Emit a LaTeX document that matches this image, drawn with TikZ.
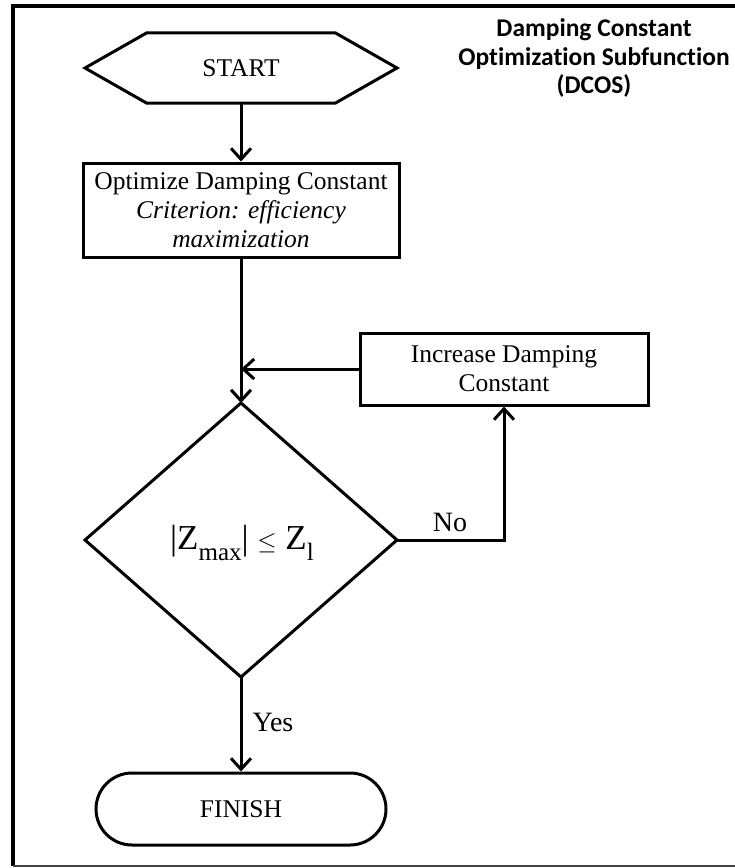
\documentclass[tikz,border=0pt]{standalone}
\usepackage{fontspec}
\setmainfont{Liberation Serif}
\newfontfamily\titlefont[Ligatures={NoCommon}]{Carlito}
\usetikzlibrary{arrows.meta}
\begin{document}
\begin{tikzpicture}[x=1pt,y=-1pt,
  outline/.style={line width=3pt, line join=miter},
  box/.style={draw, line width=3pt, rectangle, align=center, inner sep=0pt,
    font=\fontsize{25.5}{29}\selectfont},
  plain/.style={align=center, inner sep=0pt, font=\fontsize{25.5}{29}\selectfont},
  conn/.style={line width=3pt, -{Straight Barb[length=11pt,width=20pt,line width=3pt]}},
  lbl/.style={inner sep=0pt, font=\fontsize{28}{30}\selectfont},
]
\useasboundingbox (0,0) rectangle (735,868);
% frame
\draw[line width=4pt] (735,6) -- (13,6) -- (13,866);
\draw[line width=2.5pt, black!75] (13,866) -- (735,866);
% title
\node[align=center, inner sep=0pt, font=\titlefont\bfseries\fontsize{25.5}{28.5}\selectfont] (title) at (594,58)
  {Damping Constant\\Optimization Subfunction\\(DCOS)};
% start hexagon
\node[plain, minimum width=188pt, minimum height=70pt] (start) at (241,68) {START};
\draw[outline] (85,68) -- (start.north west) -- (start.north east) -- (397,68)
  -- (start.south east) -- (start.south west) -- cycle;
% optimize box
\node[box, minimum width=316pt, minimum height=94pt] (opt) at (241,210)
  {Optimize Damping Constant\\ \textit{Criterion: efficiency}\\ \textit{maximization}};
% increase box
\node[box, minimum width=288pt, minimum height=72pt] (inc) at (504,369)
  {Increase Damping\\Constant};
% decision diamond
\coordinate (dtop) at (241,403);
\coordinate (dright) at (397,540);
\coordinate (dbot) at (241,677);
\coordinate (dleft) at (85,540);
\draw[outline] (dtop) -- (dright) -- (dbot) -- (dleft) -- cycle;
\node[inner sep=0pt, font=\fontsize{35}{40}\selectfont] (dec) at (242,543)
  {|Z\raisebox{-0.3em}{\fontsize{25}{27}\selectfont max}| $\leq$ Z\raisebox{-0.3em}{\fontsize{25}{27}\selectfont l}};
% finish
\node[box, rounded corners=36pt, minimum width=290pt, minimum height=72pt] (fin) at (241,809) {FINISH};
% connectors
\draw[conn] (start.south) -- (opt.north);
\draw[conn] (opt.south) -- (dtop);
\draw[conn] (inc.west) -- (opt.south |- inc.west);
\draw[conn] (dright) -| (inc.south);
\draw[conn] (dbot) -- (fin.north);
\node[lbl] (no) at (450,522) {No};
\node[lbl] (yes) at (273,722) {Yes};
\end{tikzpicture}
\end{document}
